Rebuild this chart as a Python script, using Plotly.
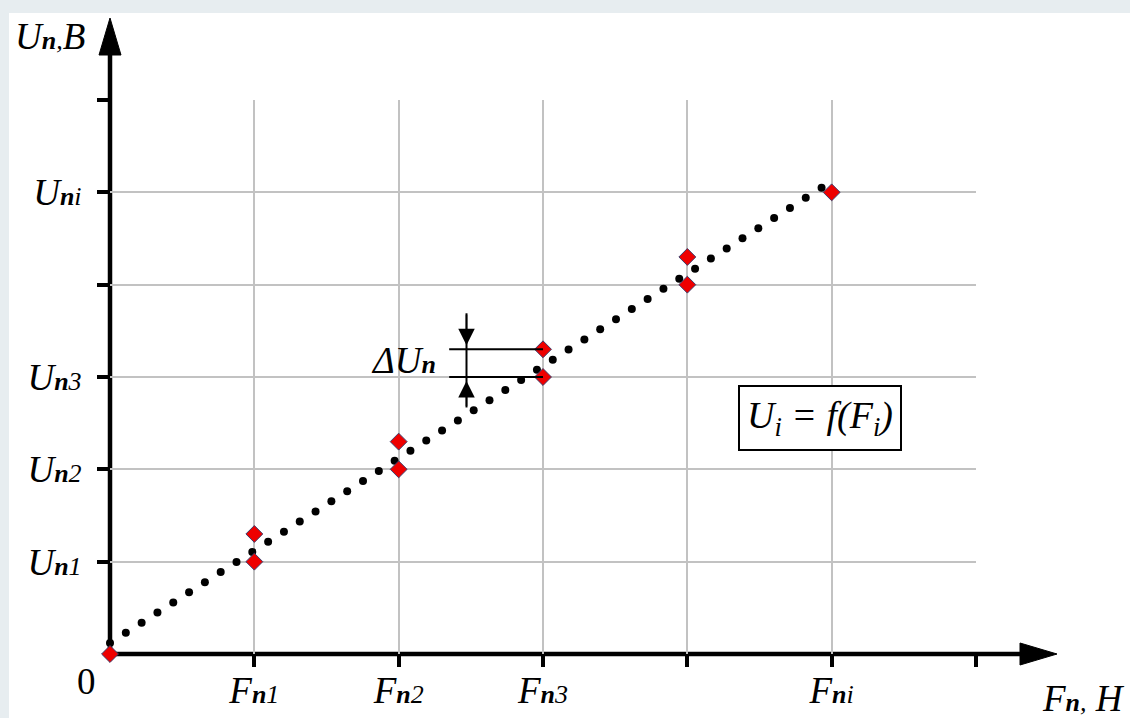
import numpy as np
import plotly.graph_objects as go

# ---------------- data ----------------
F_values = [0, 1, 1, 2, 2, 3, 3, 4, 4, 5]
U_values = [0, 1.0, 1.3, 2.0, 2.3, 3.0, 3.3, 4.0, 4.3, 5.0]

x_tick_vals = [1, 2, 3, 4, 5, 6]
x_tick_names = [("F", "n", "1"), ("F", "n", "2"), ("F", "n", "3"), None, ("F", "n", "i"), None]
y_tick_vals = [1, 2, 3, 4, 5, 6]
y_tick_names = [("U", "n", "1"), ("U", "n", "2"), ("U", "n", "3"), None, ("U", "n", "i"), None]

# ---------------- layout constants ----------------
W, H = 1130, 718
L, R, T, B = 110, 154, 100, 64
PW, PH = W - L - R, H - T - B
FONT = "Liberation Serif"
BIG = 37
SMALL = 26
FIT_END = 4.93      # where the dotted trend line stops
FIT_DOTS = 46


def px_x(px):
    return (px - L) / PW


def px_y(py):
    return (H - B - py) / PH


def label(parts):
    if parts is None:
        return ""
    main, sub_a, sub_b = parts
    return (f"<i>{main}</i><span style='font-size:{SMALL}px'><b><i>{sub_a}</i></b>"
            f"<i>{sub_b}</i></span>")


# regression (trend) line through the measured points
slope, intercept = np.polyfit(F_values, U_values, 1)
fit_x = np.linspace(0, FIT_END, FIT_DOTS)
fit_y = slope * fit_x + intercept

fig = go.Figure()
fig.add_trace(go.Scatter(x=fit_x, y=fit_y, mode="markers",
                         marker=dict(size=8, color="black"),
                         cliponaxis=False, hoverinfo="skip"))
fig.add_trace(go.Scatter(x=F_values, y=U_values, mode="markers",
                         marker=dict(symbol="diamond", size=13, color="#ee0000",
                                     line=dict(color="#3d3d6b", width=1)),
                         cliponaxis=False))

axis_common = dict(range=[0, 6], showgrid=True, gridcolor="#c2c2c2", gridwidth=2,
                   zeroline=False, showline=False, ticks="outside", ticklen=12,
                   tickwidth=4, tickcolor="black", automargin=False,
                   tickfont=dict(family=FONT, size=BIG, color="black"))

fig.update_layout(
    width=W, height=H,
    margin=dict(l=L, r=R, t=T, b=B, pad=0),
    paper_bgcolor="#e7edf0",
    plot_bgcolor="white",
    showlegend=False,
    xaxis=dict(**axis_common, tickvals=x_tick_vals,
               ticktext=[label(p) for p in x_tick_names], ticklabelstandoff=-8),
    yaxis=dict(**axis_common, tickvals=y_tick_vals,
               ticktext=[label(p) for p in y_tick_names], ticklabelstandoff=8),
)

shapes = []
# white page area
shapes.append(dict(type="rect", xref="paper", yref="paper", layer="below",
                   x0=px_x(9), x1=px_x(W + 5), y0=px_y(H + 5), y1=px_y(13),
                   fillcolor="white", line=dict(width=0)))
# axis lines
shapes.append(dict(type="line", xref="paper", yref="paper", layer="below",
                   x0=0, y0=0, x1=px_x(1025), y1=0, line=dict(color="black", width=4.5)))
shapes.append(dict(type="line", xref="paper", yref="paper", layer="below",
                   x0=0, y0=0, x1=0, y1=px_y(50), line=dict(color="black", width=4.5)))
# arrow heads
shapes.append(dict(type="path", xref="paper", yref="paper", xsizemode="pixel",
                   ysizemode="pixel", xanchor=0, yanchor=px_y(18),
                   path="M0,0 L-11,-37 L11,-37 Z", fillcolor="black",
                   line=dict(color="black", width=1)))
shapes.append(dict(type="path", xref="paper", yref="paper", xsizemode="pixel",
                   ysizemode="pixel", xanchor=px_x(1057), yanchor=0,
                   path="M0,0 L-37,11 L-37,-11 Z", fillcolor="black",
                   line=dict(color="black", width=1)))
# delta U dimension lines
dU_lo, dU_hi = U_values[5], U_values[6]
dim_x = 2.47
shapes.append(dict(type="line", xref="x", yref="y", x0=2.35, x1=F_values[6], y0=dU_hi, y1=dU_hi,
                   line=dict(color="black", width=2)))
shapes.append(dict(type="line", xref="x", yref="y", x0=2.35, x1=F_values[5], y0=dU_lo, y1=dU_lo,
                   line=dict(color="black", width=2)))
shapes.append(dict(type="line", xref="x", yref="y", x0=dim_x, x1=dim_x, y0=2.67, y1=3.69,
                   line=dict(color="black", width=2)))
fig.update_layout(shapes=shapes)

ann = []
ann.append(dict(x=dim_x, y=dU_hi, ax=dim_x, ay=3.69, xref="x", yref="y", axref="x",
                ayref="y", text="", showarrow=True, arrowhead=2, arrowsize=2.2,
                arrowwidth=1.5, arrowcolor="black", standoff=4))
ann.append(dict(x=dim_x, y=dU_lo, ax=dim_x, ay=2.67, xref="x", yref="y", axref="x",
                ayref="y", text="", showarrow=True, arrowhead=2, arrowsize=2.2,
                arrowwidth=1.5, arrowcolor="black", standoff=4))
ann.append(dict(x=px_x(438), y=px_y(360), xref="paper", yref="paper", xanchor="right",
                yanchor="middle", showarrow=False,
                text=f"<i>ΔU</i><span style='font-size:{SMALL}px'><b><i>n</i></b></span>",
                font=dict(family=FONT, size=BIG, color="black")))
ann.append(dict(x=px_x(820), y=px_y(418), xref="paper", yref="paper", xanchor="center",
                yanchor="middle", showarrow=False,
                text="<i>U<sub>i</sub> = f(F<sub>i</sub>)</i>",
                font=dict(family=FONT, size=BIG + 1, color="black"),
                bordercolor="black", borderwidth=2, borderpad=7, bgcolor="white"))
ann.append(dict(x=px_x(13), y=px_y(37), xref="paper", yref="paper", xanchor="left",
                yanchor="middle", showarrow=False,
                text=f"<i>U<span style='font-size:{SMALL}px'><b>n</b>,</span>B</i>",
                font=dict(family=FONT, size=BIG, color="black")))
ann.append(dict(x=px_x(1127), y=px_y(698), xref="paper", yref="paper", xanchor="right",
                yanchor="middle", showarrow=False,
                text=f"<i>F<span style='font-size:{SMALL}px'><b>n</b>,</span> H</i>",
                font=dict(family=FONT, size=BIG, color="black")))
ann.append(dict(x=px_x(86), y=px_y(681), xref="paper", yref="paper", xanchor="center",
                yanchor="middle", showarrow=False, text="0",
                font=dict(family=FONT, size=BIG, color="black")))
fig.update_layout(annotations=ann)

fig.write_html("out.html")
